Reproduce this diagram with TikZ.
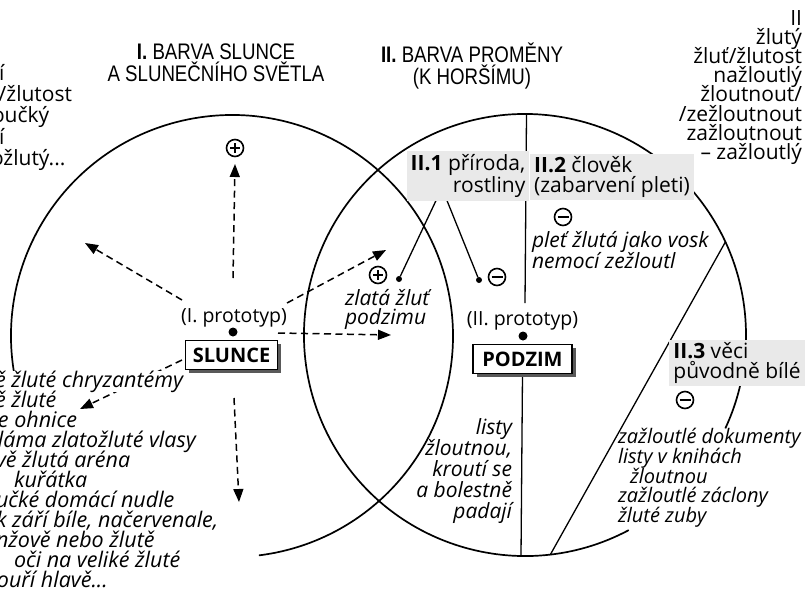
\documentclass[tikz,border=0pt]{standalone}
\usepackage{fontspec}
\setmainfont{Open Sans}
\newfontfamily\titlefont[FakeStretch=0.83]{Liberation Sans}
\usetikzlibrary{arrows.meta,shadows}
\pgfdeclarelayer{bg}
\pgfsetlayers{bg,main}
\begin{document}
\begin{tikzpicture}[x=1pt,y=-1pt,
  every node/.style={inner sep=0pt,outer sep=0pt},
  ring/.style={line width=1.7pt},
  darrow/.style={line width=1.5pt,dash pattern=on 7pt off 4.5pt,-{Triangle[length=13pt,width=10pt]}},
  leader/.style={line width=1.3pt},
  ttl/.style={font=\titlefont\fontsize{22.5}{23}\selectfont,anchor=base},
  rtx/.style={font=\fontsize{21}{19.5}\selectfont},
  ptx/.style={font=\fontsize{19.5}{19.5}\selectfont},
  itx/.style={font=\fontsize{21}{20}\selectfont\itshape},
  itl/.style={font=\fontsize{21.5}{20}\selectfont\itshape,anchor=base west,fill=white},
  itr/.style={font=\fontsize{20}{20}\selectfont\itshape,anchor=base west},
  hatch/.style={fill=gray!17,inner xsep=4pt,inner ysep=3pt,font=\fontsize{21}{19.5}\selectfont},
  proto/.style={draw,line width=1.5pt,fill=white,font=\fontsize{20}{20}\selectfont\bfseries,minimum height=29pt,
    drop shadow={shadow xshift=3.5pt,shadow yshift=-3.5pt,fill=black!65,opacity=1}},
  bigdot/.style={circle,fill,minimum size=9pt},
  smalldot/.style={circle,fill,minimum size=6pt},
  sgn/.style={circle,draw,line width=1.6pt,minimum size=17pt},
  signplus/.style={sgn,path picture={\draw[line width=1.7pt]
     ([xshift=-5pt]path picture bounding box.center) -- ([xshift=5pt]path picture bounding box.center)
     ([yshift=-5pt]path picture bounding box.center) -- ([yshift=5pt]path picture bounding box.center);}},
  signminus/.style={sgn,path picture={\draw[line width=1.7pt]
     ([xshift=-5.5pt]path picture bounding box.center) -- ([xshift=5.5pt]path picture bounding box.center);}},
]
\useasboundingbox (0,0) rectangle (805,603);

% circle centres
\coordinate (lc) at (232,336);
\coordinate (rc) at (525,335);

% titles
\node[ttl] (t1a) at (216,59) {\textbf{I.} BARVA SLUNCE};
\node[ttl] (t1b) at (216,81) {A SLUNEČNÍHO SVĚTLA};
\node[ttl] (t2a) at (472,62) {\textbf{II.} BARVA PROMĚNY};
\node[ttl] (t2b) at (472,84) {(K HORŠÍMU)};

% right column
\node[rtx,anchor=base east] (r0) at (802,25) {II};
\node[rtx,anchor=base east] (r1) at (802,44) {žlutý};
\node[rtx,anchor=base east] (r2) at (802,63) {žluť/žlutost};
\node[rtx,anchor=base east] (r3) at (802,82) {nažloutlý};
\node[rtx,anchor=base east] (r4) at (802,101) {žloutnout/};
\node[rtx,anchor=base east] (r5) at (802,121) {/zežloutnout};
\node[rtx,anchor=base east] (r6) at (802,140) {zažloutnout};
\node[rtx,anchor=base east] (r7) at (802,159) {– zažloutlý};

% left top fragments
\node[rtx,anchor=base west] (l0) at (-1,80) {í};
\node[rtx,anchor=base east] (l1) at (72,101) {/žlutost};
\node[rtx,anchor=base west] (l2) at (-8,122) {oučký};
\node[rtx,anchor=base west] (l3) at (-1,144) {í};
\node[rtx,anchor=base west] (l4) at (-9,165) {ožlutý...};

% left bottom fragments
\node[itl] (b1) at (-5,387) {ě žluté chryzantémy};
\node[itl] (b2) at (-5,407) {ě žluté};
\node[itl] (b3) at (-2,427) {e ohnice};
\node[itl] (b4) at (-2,447) {láma zlatožluté vlasy};
\node[itl] (b5) at (-4,467) {vě žlutá aréna};
\node[itl] (b6) at (14,487) {kuřátka};
\node[itl] (b7) at (-4,507) {učké domácí nudle};
\node[itl] (b8) at (-4,527) {k září bíle, načervenale,};
\node[itl] (b9) at (-4,547) {nžově nebo žlutě};
\node[itl] (b10) at (14,567) {oči na veliké žluté};
\node[itl] (b11) at (-3,587) {ouří hlavě...};

% prototypes
\node[ptx] (p1lab) at (234,318) {(I. prototyp)};
\node[bigdot] (p1dot) at (233,332) {};
\node[proto,minimum width=92pt] (slunce) at (231.5,355) {SLUNCE};
\node[ptx] (p2lab) at (522.5,321) {(II. prototyp)};
\node[bigdot] (p2dot) at (523,336) {};
\node[proto,minimum width=99pt] (podzim) at (522.5,359) {PODZIM};

% category labels
\node[hatch,align=right] (c1) at (468,176) {\textbf{II.1} příroda,\\rostliny};
\node[hatch,align=left] (c2) at (612,177) {\textbf{II.2} člověk\\(zabarvení pleti)};
\node[hatch,align=left] (c3) at (737,363) {\textbf{II.3} věci\\původně bílé};

% signs and dots
\node[signplus] (s1) at (235,148) {};
\node[signplus] (s2) at (378,275) {};
\node[smalldot] (d2) at (399,279) {};
\node[signminus] (s3) at (497,277) {};
\node[smalldot] (d3) at (479,280) {};
\node[signminus] (s4) at (563,217) {};
\node[signminus] (s5) at (685,400) {};

% italic texts inside
\node[itx,anchor=base west] (z1) at (345,305) {zlatá žluť};
\node[itx,anchor=base west] (z2) at (345,324) {podzimu};
\node[itx,anchor=base west] (q1) at (532,247) {pleť žlutá jako vosk};
\node[itx,anchor=base west] (q2) at (532,268) {nemocí zežloutl};
\node[itx,anchor=base east] (k1) at (512,434) {listy};
\node[itx,anchor=base east] (k2) at (512,455) {žloutnou,};
\node[itx,anchor=base east] (k3) at (512,476) {kroutí se};
\node[itx,anchor=base east] (k4) at (512,497) {a bolestně};
\node[itx,anchor=base east] (k5) at (512,518) {padají};
\node[itr] (m1) at (618,443) {zažloutlé dokumenty};
\node[itr] (m2) at (618,463) {listy v knihách};
\node[itr] (m3) at (630,483) {žloutnou};
\node[itr] (m4) at (618,502) {zažloutlé záclony};
\node[itr] (m5) at (618,522) {žluté zuby};

% coordinates for lines
\coordinate (vtop) at (526.5,114.5);
\coordinate (vmid) at (525,303);
\coordinate (vbot) at (521,556);
\coordinate (ch1) at (725.4,241.9);
\coordinate (ch2) at (550.4,554.5);
\coordinate (a0) at (233,278);  \coordinate (a0e) at (235,164);
\coordinate (a1) at (182,300);  \coordinate (a1e) at (85,243);
\coordinate (a2) at (287,303);  \coordinate (a2e) at (386,250);
\coordinate (a3) at (278,333);  \coordinate (a3e) at (391,335);
\coordinate (a4) at (234,398);  \coordinate (a4e) at (239,502);
\coordinate (a5) at (182,360);  \coordinate (a5e) at (80,409);

\begin{pgfonlayer}{bg}
\draw[ring] ([shift={(170:221)}]lc) arc[start angle=170,end angle=443,radius=221];
\draw[ring] ([shift={(62:221)}]rc) arc[start angle=62,end angle=385,radius=221];
\draw[leader] (vtop) -- (vmid);
\draw[leader] (podzim.south) -- (vbot);
\draw[leader] (ch1) -- (ch2);
\draw[leader] ([xshift=-32pt]c1.south) -- (d2);
\draw[leader] ([xshift=-21pt]c1.south) -- (d3);
\draw[darrow] (a0) -- (a0e);
\draw[darrow] (a1) -- (a1e);
\draw[darrow] (a2) -- (a2e);
\draw[darrow] (a3) -- (a3e);
\draw[darrow] (a4) -- (a4e);
\draw[darrow] (a5) -- (a5e);
\end{pgfonlayer}
\end{tikzpicture}
\end{document}
